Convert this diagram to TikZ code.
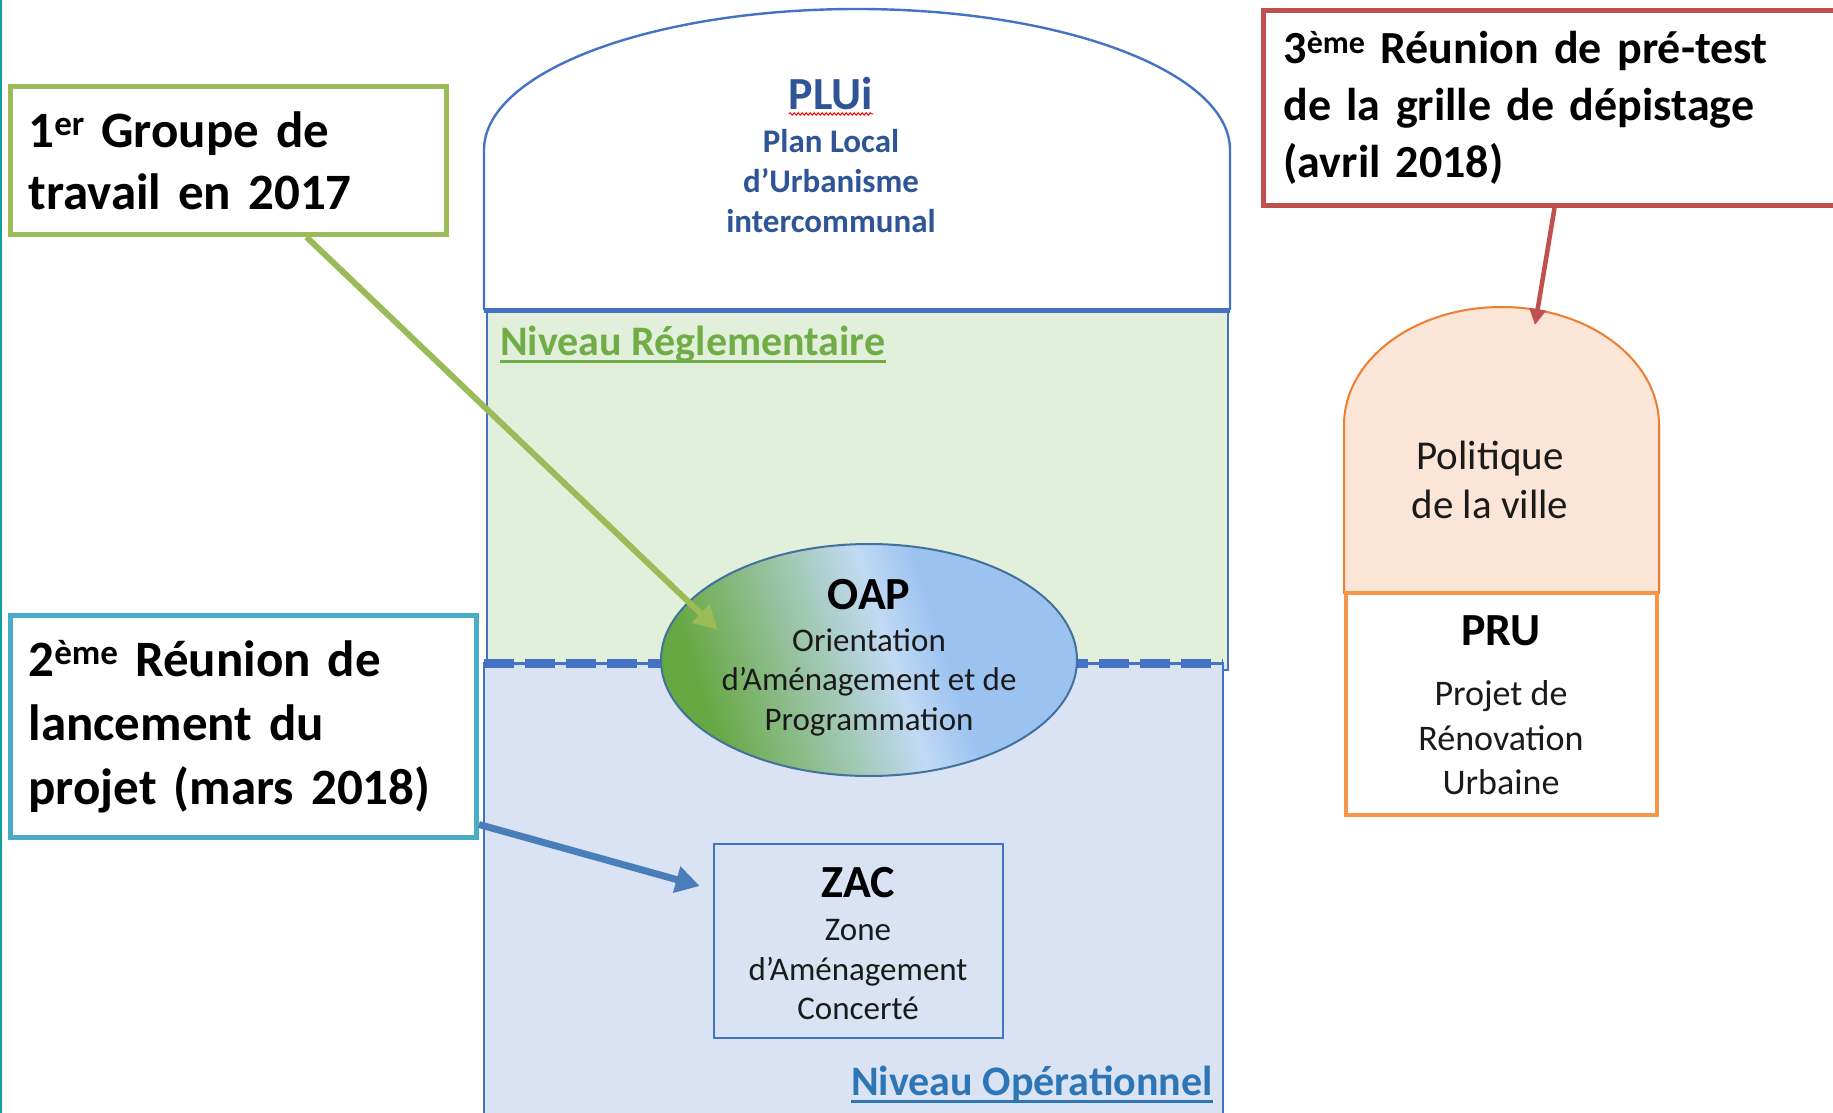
\documentclass[tikz,border=0pt]{standalone}
\usepackage{fontspec}
\setmainfont{Carlito}
\usetikzlibrary{arrows.meta,shapes.geometric,decorations.pathmorphing}
\definecolor{cGreenLine}{HTML}{9BBB59}
\definecolor{cTeal}{HTML}{4BACC6}
\definecolor{cRed}{HTML}{C0504D}
\definecolor{cBlueLine}{HTML}{4472C4}
\definecolor{cBlueArr}{HTML}{4A7EBB}
\definecolor{cGreenBg}{HTML}{E2EFDA}
\definecolor{cBlueBg}{HTML}{DAE3F3}
\definecolor{cNivG}{HTML}{70AD47}
\definecolor{cNivB}{HTML}{2E75B6}
\definecolor{cPLUi}{HTML}{2F5597}
\definecolor{cPink}{HTML}{FBE5D6}
\definecolor{cOrange}{HTML}{ED7D31}
\definecolor{cOrangeThick}{HTML}{F79646}
\definecolor{cEdge}{HTML}{13A09F}
\definecolor{cOapEdge}{HTML}{41719C}
\definecolor{cDark}{HTML}{1A1A1A}
\definecolor{oapG}{HTML}{66A842}
\definecolor{oapL}{HTML}{C2DAF4}
\definecolor{oapB}{HTML}{9CC3F0}
\pgfdeclarehorizontalshading{oapshade}{100bp}{color(0bp)=(oapG); color(27bp)=(oapG); color(53bp)=(oapL); color(60bp)=(oapB); color(100bp)=(oapB)}
\newcommand\fsz[2]{\fontsize{#1}{#2}\selectfont}
\newcommand\supx[2]{\raisebox{0.22em}{\fontsize{#1}{#1}\selectfont #2}}
\tikzset{
  callout/.style={draw=#1, line width=5pt, fill=white, rectangle, align=left, inner xsep=18pt, inner ysep=0pt, anchor=north west},
  txt/.style={inner sep=0pt, outer sep=0pt, align=center},
  bigbold/.style={txt, font=\bfseries\fsz{46}{50}},
}
\begin{document}
\begin{tikzpicture}[x=1pt,y=-1pt]
\useasboundingbox (0,0) rectangle (1833,1113);
\clip (0,0) rectangle (1833,1113);
\fill[white] (0,0) rectangle (1833,1113);
\draw[cEdge, line width=2.5] (1.2,0) -- (1.2,1113);

% levels
\draw[cBlueLine, line width=2, fill=cGreenBg] (487,310) rectangle (1228,670);
\draw[cBlueLine, line width=2, fill=cBlueBg] (484,663) rectangle (1223,1130);

% PLUi cap
\draw[cBlueLine, line width=2.4, fill=white] (484,310) -- (484,150) .. controls (484,72) and (651,9) .. (857,9) .. controls (1063,9) and (1230,72) .. (1230,150) -- (1230,310);
\draw[cBlueLine, line width=5] (484,310) -- (1230,310);

% dashed border between levels
\draw[cBlueLine, line width=3] (484,663) -- (1223,663);
\draw[cBlueLine, line width=9, dash pattern=on 30pt off 11pt] (484,663) -- (1223,663);

% OAP
\node[ellipse, draw=cOapEdge, line width=2, minimum width=416pt, minimum height=232pt, inner sep=0pt, shade, shading=oapshade, shading angle=18] (oap) at (869,660) {};
\node[bigbold] (oapT) at (869,595) {OAP};
\node[txt, font=\fsz{33}{39.5}, text=cDark] (oapS) at (869,682) {Orientation\\d’Aménagement et de\\Programmation};

% ZAC
\node[draw=cBlueLine, line width=2.5, minimum width=289pt, minimum height=194pt, inner sep=0pt] (zac) at (858.5,941) {};
\node[bigbold] (zacT) at (858,883) {ZAC};
\node[txt, font=\fsz{33}{39.5}, text=cDark] (zacS) at (858,970) {Zone\\d’Aménagement\\Concerté};

% PLUi text
\node[bigbold, text=cPLUi] (pluiT) at (831,94) {PLUi};
\draw[red, line width=1, decorate, decoration={snake, amplitude=1.2pt, segment length=4pt}] ([yshift=-4pt]pluiT.base west) -- ([yshift=-4pt]pluiT.base east);
\node[txt, font=\bfseries\fsz{33}{40}, text=cPLUi] (pluiS) at (831,181) {Plan Local\\d’Urbanisme\\intercommunal};

% level labels
\node[inner sep=0pt, font=\bfseries\fsz{42}{50}, text=cNivG, anchor=base west] (nivR) at (500,355) {Niveau Réglementaire};
\draw[cNivG, line width=3] ([yshift=-6pt]nivR.base west) -- ([yshift=-6pt]nivR.base east);
\node[inner sep=0pt, font=\bfseries\fsz{42}{50}, text=cNivB, anchor=base east] (nivO) at (1213,1095) {Niveau Opérationnel};
\draw[cNivB, line width=3] ([yshift=-6pt]nivO.base west) -- ([yshift=-6pt]nivO.base east);

% Politique de la ville / PRU
\draw[cOrange, line width=2, fill=cPink] (1344,593) -- (1344,425) .. controls (1344,360) and (1414,307) .. (1501.5,307) .. controls (1589,307) and (1659,360) .. (1659,425) -- (1659,593) -- cycle;
\node[txt, font=\fsz{41}{49}, text=cDark] (polS) at (1490,480) {Politique\\de la ville};
\node[draw=cOrangeThick, line width=4.5, fill=white, minimum width=311pt, minimum height=222pt, inner sep=0pt] (pru) at (1501.5,704) {};
\node[bigbold] (pruT) at (1501,631) {PRU};
\node[txt, font=\fsz{36}{44.5}, text=cDark] (pruS) at (1501,738) {Projet de\\Rénovation\\Urbaine};

% callouts
\node[callout=cGreenLine, minimum width=436pt, minimum height=148pt, text width=400pt, font=\bfseries\fsz{51}{62}] (g1) at (8,84) {1\supx{35}{er} Groupe de\\travail en 2017};
\node[callout=cTeal, minimum width=466pt, minimum height=222pt, text width=430pt, font=\bfseries\fsz{51}{64}] (t2) at (8,613) {2\supx{35}{ème} Réunion de\\lancement du\\projet (mars 2018)};
\node[callout=cRed, inner xsep=20pt, minimum width=620pt, minimum height=195pt, text width=580pt, font=\bfseries\fsz{46}{57}] (r3) at (1261,8) {3\supx{32}{ème} Réunion de pré-test\\de la grille de dépistage\\(avril 2018)};

% connectors
\coordinate (a1to) at ([shift={(-151pt,30pt)}]oap.center);
\coordinate (polTop) at (1535,325);
\draw[cGreenLine, line width=6, -{Triangle[length=24pt,width=24pt]}] ([xshift=78pt]g1.south) -- (a1to);
\draw[cBlueArr, line width=7, -{Triangle[length=24pt,width=26pt]}] ([yshift=-98pt]t2.east) -- ([shift={(-13pt,55pt)}]zac.west);
\draw[cRed, line width=4.5, -{Triangle[length=16pt,width=16pt]}] ([xshift=-19pt]r3.south) -- (polTop);
\end{tikzpicture}
\end{document}
